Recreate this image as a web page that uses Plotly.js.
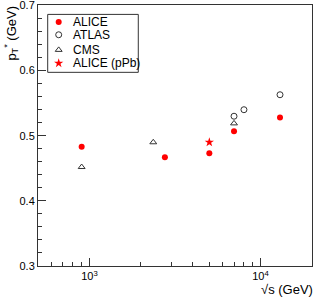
<!DOCTYPE html>
<html><head><meta charset="utf-8">
<script src="https://cdn.plot.ly/plotly-3.0.1.min.js"></script>
<style>body{margin:0;padding:0;background:#fff}#c{width:315px;height:301px}</style>
</head><body><div id="c"></div>
<script>
// data
var aliceX = [900, 2760, 5020, 7000, 13000];
var aliceY = [0.483, 0.467, 0.473, 0.507, 0.528];
var atlasX = [7000, 8000, 13000];
var atlasY = [0.530, 0.540, 0.563];
var cmsX = [900, 2360, 7000];
var cmsY = [0.452, 0.490, 0.519];
var pPbX = [5020];
var pPbY = [0.490];
var seriesNames = ["ALICE", "ATLAS", "CMS", "ALICE (pPb)"];
var xTickVals = [1000, 10000];
var xTickText = ["10<sup>3</sup>", "10<sup>4</sup>"];
var xMinorVals = [600,700,800,900,2000,3000,4000,5000,6000,7000,8000,9000,20000];
var yTickVals = [0.3, 0.4, 0.5, 0.6, 0.7];
var yTickText = ["0.3", "0.4", "0.5", "0.6", "0.7"];

var F = "Liberation Sans, Arial, Helvetica, sans-serif";
var markers = [
  {symbol:"circle", color:"#ff0000", size:6, line:{width:0}},
  {symbol:"circle-open", color:"#333", size:6, line:{width:1, color:"#333"}},
  {symbol:"triangle-up-open", color:"#333", size:6, line:{width:1, color:"#333"}},
  {symbol:"star", color:"#ff0000", size:7, line:{width:0}}
];
var traces = [
  {x:aliceX, y:aliceY, mode:"markers", marker:markers[0], name:seriesNames[0]},
  {x:atlasX, y:atlasY, mode:"markers", marker:markers[1], name:seriesNames[1]},
  {x:cmsX, y:cmsY, mode:"markers", marker:markers[2], name:seriesNames[2]},
  {x:pPbX, y:pPbY, mode:"markers", marker:markers[3], name:seriesNames[3]}
];
// manual legend keys on overlay axes
var legX = 0.0755, legTextX = 0.119;
var legRows = [0.935, 0.886, 0.828, 0.777];
var annotations = [];
for (var i = 0; i < 4; i++) {
  traces.push({x:[legX], y:[legRows[i]], xaxis:"x2", yaxis:"y2", mode:"markers",
    marker:markers[i], showlegend:false, hoverinfo:"skip"});
  annotations.push({xref:"paper", yref:"paper", x:legTextX, y:legRows[i], xanchor:"left",
    yanchor:"middle", text:seriesNames[i], showarrow:false, font:{family:F, size:12, color:"#000"}});
}
annotations.push({xref:"paper", yref:"paper", x:1.01, y:-0.125, xanchor:"right", yanchor:"bottom",
  text:"√s (GeV)", showarrow:false, font:{family:F, size:13, color:"#000"}});
annotations.push({xref:"paper", yref:"paper", x:-0.097, y:1.005, xanchor:"center", yanchor:"top",
  textangle:-90, text:"p<sub>T</sub><sup>*</sup> (GeV)", showarrow:false, font:{family:F, size:13, color:"#000"}});

var layout = {
  width:315, height:301,
  margin:{l:38, r:3, t:5, b:35},
  paper_bgcolor:"#fff", plot_bgcolor:"#fff",
  showlegend:false,
  font:{family:F, size:11, color:"#000"},
  xaxis:{type:"log", range:[Math.log10(500), Math.log10(20000)],
    tickmode:"array", tickvals:xTickVals, ticktext:xTickText,
    ticks:"inside", ticklen:8, tickcolor:"#333", tickwidth:1,
    showline:true, linecolor:"#333", linewidth:1, mirror:true,
    showgrid:false, zeroline:false, ticklabeloverflow:"allow",
    minor:{tickmode:"array", tickvals:xMinorVals, ticks:"inside", ticklen:4, tickcolor:"#333", showgrid:false},
    tickfont:{family:F, size:11}},
  yaxis:{range:[0.3, 0.7008], tickmode:"array", tickvals:yTickVals, ticktext:yTickText,
    ticks:"inside", ticklen:8, tickcolor:"#333", tickwidth:1,
    showline:true, linecolor:"#333", linewidth:1, mirror:true,
    showgrid:false, zeroline:false, ticklabeloverflow:"allow",
    minor:{tickmode:"linear", tick0:0.3, dtick:0.02, ticks:"inside", ticklen:4, tickcolor:"#333", showgrid:false},
    tickfont:{family:F, size:11}},
  xaxis2:{overlaying:"x", range:[0,1], visible:false, fixedrange:true},
  yaxis2:{overlaying:"y", range:[0,1], visible:false, fixedrange:true},
  shapes:[{type:"rect", xref:"paper", yref:"paper", x0:0.0354, x1:0.366, y0:0.742, y1:0.964,
    line:{color:"#333", width:1}, fillcolor:"rgba(255,255,255,0)"}],
  annotations:annotations
};
Plotly.newPlot("c", traces, layout, {staticPlot:true, displayModeBar:false});
</script></body></html>
